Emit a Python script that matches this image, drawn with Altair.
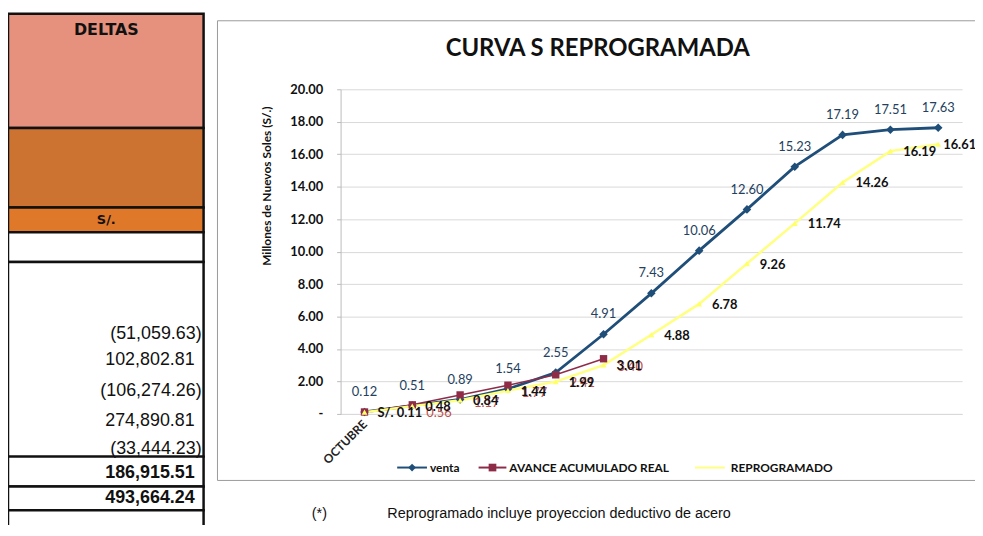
import altair as alt
import pandas as pd

# ---------------- data ----------------
meses = ["OCTUBRE", "NOVIEMBRE", "DICIEMBRE", "ENERO", "FEBRERO", "MARZO", "ABRIL",
         "MAYO", "JUNIO", "JULIO", "AGOSTO", "SETIEMBRE", "OCTUBRE (2)"]
etiquetas_x = ["OCTUBRE"]
venta = [0.12, 0.51, 0.89, 1.54, 2.55, 4.91, 7.43, 10.06, 12.60, 15.23, 17.19, 17.51, 17.63]
avance = [0.12, 0.56, 1.17, 1.77, 2.41, 3.40]
reprogramado = [0.11, 0.48, 0.84, 1.44, 1.99, 3.01, 4.88, 6.78, 9.26, 11.74, 14.26, 16.19, 16.61]
series = ["venta", "AVANCE ACUMULADO REAL", "REPROGRAMADO"]
colores = ["#1F4E79", "#8E2C48", "#FFFF80"]

deltas = ["(51,059.63)", "102,802.81", "(106,274.26)", "274,890.81", "(33,444.23)"]
subtotal = "186,915.51"
total = "493,664.24"
titulo = "CURVA S REPROGRAMADA"
eje_y = "Millones de Nuevos Soles (S/.)"
nota_marca = "(*)"
nota = "Reprogramado incluye proyeccion deductivo de acero"

# ---------------- tables ----------------
def serie_df(nombre, valores):
    return pd.DataFrame({"mes": meses[:len(valores)], "valor": valores,
                         "idx": list(range(len(valores))), "serie": nombre})

df_v = serie_df(series[0], venta)
df_a = serie_df(series[1], avance)
df_r = serie_df(series[2], reprogramado)
n_last = len(reprogramado) - 1

# layout helpers (page px -> plot px)
PX0, PY0 = 343, 88
def cx(p): return p - PX0
def cy(p): return p - PY0

W, H = 626, 327

x_enc = alt.X("mes:N", sort=meses, title=None,
              scale=alt.Scale(type="point", padding=0.5),
              axis=alt.Axis(labelExpr="indexof(%s, datum.value) >= 0 ? datum.value : ''" % str(etiquetas_x),
                            labelAngle=-45, labelAlign="right", labelBaseline="middle",
                            labelFont="Lato", labelFontSize=12, labelFontWeight="bold",
                            labelColor="#222", labelPadding=8, ticks=False,
                            domainColor="#D9D9D9", grid=False))
y_enc = alt.Y("valor:Q", scale=alt.Scale(domain=[0, 20], nice=False),
              axis=alt.Axis(values=list(range(0, 21, 2)),
                            labelExpr="datum.value == 0 ? '-' : format(datum.value, '.2f')",
                            labelFont="Lato", labelFontSize=13, labelFontWeight="bold",
                            labelColor="#111", labelPadding=14, tickSize=4, tickColor="#BBB",
                            domainColor="#BBBBBB", gridColor="#D9D9D9",
                            title=eje_y, titleFont="Lato", titleFontSize=12,
                            titleFontWeight="bold", titleColor="#111",
                            titleX=-75, titleY=97, titleAlign="center", titleBaseline="middle"))

# data layers
l_v = alt.Chart(df_v).mark_line(color=colores[0], strokeWidth=2.8).encode(x=x_enc, y=y_enc)
p_v = alt.Chart(df_v).mark_point(shape="diamond", filled=True, size=75, color=colores[0],
                                 opacity=1).encode(x=x_enc, y=y_enc)
l_a = alt.Chart(df_a).mark_line(color=colores[1], strokeWidth=1.5).encode(x=x_enc, y=y_enc)
p_a = alt.Chart(df_a).mark_point(shape="square", filled=True, size=55, color=colores[1],
                                 opacity=1).encode(x=x_enc, y=y_enc)
l_r = alt.Chart(df_r).mark_line(color=colores[2], strokeWidth=2.5).encode(x=x_enc, y=y_enc)
p_r = alt.Chart(df_r).mark_point(shape="triangle-up", filled=True, size=35, color="#FFFF66",
                                 opacity=1).encode(x=x_enc, y=y_enc)

t_v = alt.Chart(df_v).mark_text(font="Lato", fontSize=13, color="#243F60", dy=-20,
                                align="center", baseline="middle").encode(
    x=x_enc, y=y_enc, text=alt.Text("valor:Q", format=".2f"))
t_a = alt.Chart(df_a).transform_filter("datum.idx > 0").mark_text(
    font="Lato", fontSize=13, color="#C0504D", dx=14, dy=8, align="left",
    baseline="middle").encode(x=x_enc, y=y_enc, text=alt.Text("valor:Q", format=".2f"))
r_lab = alt.Chart(df_r).transform_calculate(
    lab="(datum.idx == 0 ? 'S/. ' : '') + format(datum.valor, '.2f')")
t_r = r_lab.transform_filter("datum.idx < %d" % n_last).mark_text(
    font="Lato", fontSize=13, fontWeight="bold", color="#111", dx=13, dy=1,
    align="left", baseline="middle").encode(x=x_enc, y=y_enc, text="lab:N")
t_r_last = r_lab.transform_filter("datum.idx == %d" % n_last).mark_text(
    font="Lato", fontSize=13, fontWeight="bold", color="#111", dx=5, dy=1,
    align="left", baseline="middle").encode(x=x_enc, y=y_enc, text="lab:N")

# ---------------- decorations (layout) ----------------
one = pd.DataFrame({"k": [0]})

# chart frame
frame = alt.Chart(pd.DataFrame({"x": [cx(219)], "x2": [cx(995)], "y": [cy(19)], "y2": [cy(482)]})).mark_rect(
    fill="white", fillOpacity=0, stroke="#9A9A9A", strokeWidth=1).encode(
    x=alt.X("x:Q", scale=None), x2="x2:Q", y=alt.Y("y:Q", scale=None), y2="y2:Q")

title_t = alt.Chart(one).mark_text(font="Lato", fontSize=24, fontWeight="bold", color="#111",
                                   align="center", baseline="middle").encode(
    x=alt.value(cx(602)), y=alt.value(cy(47)), text=alt.value(titulo))

# left table
filas = [12, 127, 207, 232, 262, 458, 488, 512, 545]
rellenos = ["#E6917D", "#CD7332", "#E0782A", "white", "white", "white", "white", "white"]
cells = pd.DataFrame({"x": [cx(8)] * 8, "x2": [cx(205)] * 8,
                      "y": [cy(v) for v in filas[:-1]], "y2": [cy(v) for v in filas[1:]],
                      "fill": rellenos})
table = alt.Chart(cells).mark_rect(stroke="#111", strokeWidth=2.5).encode(
    x=alt.X("x:Q", scale=None), x2="x2:Q", y=alt.Y("y:Q", scale=None), y2="y2:Q",
    fill=alt.Fill("fill:N", scale=None))

hdr = pd.DataFrame({"t": ["DELTAS", "S/."], "x": [cx(107), cx(107)], "y": [cy(28), cy(220)],
                    "s": [16, 13]})
hdr_t = alt.Chart(hdr).mark_text(font="DejaVu Sans", fontWeight="bold", color="#111",
                                 align="center", baseline="middle").encode(
    x=alt.X("x:Q", scale=None), y=alt.Y("y:Q", scale=None), text="t:N",
    size=alt.Size("s:Q", scale=None, legend=None))

vals_y = [335, 361, 392, 422, 450]
vals = pd.DataFrame({"t": deltas,
                     "x": [cx(203) if d.startswith("(") else cx(196) for d in deltas],
                     "y": [cy(v) for v in vals_y]})
vals_t = alt.Chart(vals).mark_text(font="Liberation Sans", fontSize=18, color="#111",
                                   align="right", baseline="middle").encode(
    x=alt.X("x:Q", scale=None), y=alt.Y("y:Q", scale=None), text="t:N")
tot = pd.DataFrame({"t": [subtotal, total], "x": [cx(196), cx(196)], "y": [cy(475), cy(500)]})
tot_t = alt.Chart(tot).mark_text(font="Liberation Sans", fontSize=18, fontWeight="bold",
                                 color="#111", align="right", baseline="middle").encode(
    x=alt.X("x:Q", scale=None), y=alt.Y("y:Q", scale=None), text="t:N")

# legend (manual)
leg_y = cy(469)
leg = pd.DataFrame({"serie": series,
                    "x1": [cx(400), cx(482), cx(700)], "x2": [cx(430), cx(510), cx(730)],
                    "tx": [cx(433), cx(513), cx(736)],
                    "color": colores,
                    "shape": ["diamond", "square", "triangle-up"],
                    "y": [leg_y] * 3})
leg_l = alt.Chart(leg).mark_rule(strokeWidth=2).encode(
    x=alt.X("x1:Q", scale=None), x2="x2:Q", y=alt.Y("y:Q", scale=None),
    color=alt.Color("color:N", scale=None))
leg_p = alt.Chart(leg).transform_filter("datum.shape != 'triangle-up'").transform_calculate(
    xm="(datum.x1 + datum.x2) / 2").mark_point(filled=True, size=60, opacity=1).encode(
    x=alt.X("xm:Q", scale=None), y=alt.Y("y:Q", scale=None),
    color=alt.Color("color:N", scale=None), shape=alt.Shape("shape:N", scale=None))
leg_t = alt.Chart(leg).mark_text(font="Lato", fontSize=12, fontWeight="bold", color="#111",
                                 align="left", baseline="middle").encode(
    x=alt.X("tx:Q", scale=None), y=alt.Y("y:Q", scale=None), text="serie:N")

# footnote
notas = pd.DataFrame({"t": [nota_marca, nota], "x": [cx(314), cx(390)], "y": [cy(516)] * 2})
nota_t = alt.Chart(notas).mark_text(font="Liberation Sans", fontSize=14.5, color="#111",
                                    align="left", baseline="middle").encode(
    x=alt.X("x:Q", scale=None), y=alt.Y("y:Q", scale=None), text="t:N")

chart = alt.layer(
    l_v, l_a, l_r, p_v, p_a, p_r, t_v, t_a, t_r, t_r_last,
    frame, title_t, table, hdr_t, vals_t, tot_t, leg_l, leg_p, leg_t, nota_t
).resolve_scale(x="shared", y="shared").properties(
    width=W, height=H,
    autosize=alt.AutoSizeParams(type="none"),
    padding={"left": 335, "top": 80, "right": 13, "bottom": 110},
    background="white"
).configure_view(stroke=None)

chart.save("out.html", embed_options={"renderer": "svg", "actions": False})
